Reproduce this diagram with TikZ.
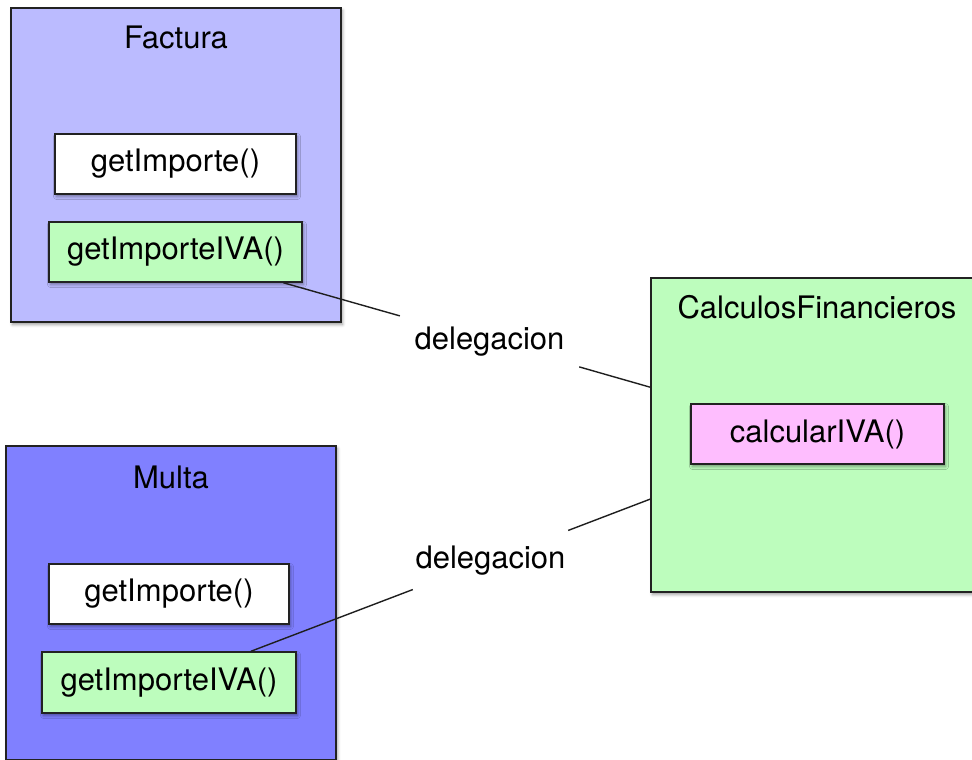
\documentclass[tikz,border=0pt]{standalone}
\usepackage{fontspec}
\setmainfont{TeX Gyre Heros}
\usetikzlibrary{calc,shadows.blur}

\definecolor{facturafill}{HTML}{BBBBFF}
\definecolor{multafill}{HTML}{8080FF}
\definecolor{greenfill}{HTML}{BDFDBD}
\definecolor{pinkfill}{HTML}{FEBDFE}
\definecolor{boxline}{HTML}{222222}
\definecolor{linecol}{HTML}{1E1E1E}

\begin{document}
\begin{tikzpicture}[x=1pt, y=-1pt,
  box/.style={draw=boxline, line width=1.5pt, rectangle, inner sep=0pt,
    blur shadow={shadow xshift=1.5pt, shadow yshift=-2.5pt,
      shadow blur radius=3pt, shadow opacity=40}},
  classbox/.style={box, minimum width=330pt, minimum height=314pt},
  txt/.style={font=\fontsize{31}{36}\selectfont, text=black},
  title/.style={txt, inner sep=0pt},
  method/.style={box, txt, minimum height=60pt},
  gap/.style={txt, inner sep=0pt},
  link/.style={draw=linecol, line width=1.4pt}]

\useasboundingbox (0,0) rectangle (972,760);

% class Factura
\node[classbox, fill=facturafill] (factura) at (176,165) {};
\node[title] (facturaT) at (176,37) {Factura};
\node[method, fill=white, minimum width=241pt] (fimp) at (175.5,164) {getImporte()};
\node[method, fill=greenfill, minimum width=253pt] (fiva) at (175.5,252) {getImporteIVA()};

% class Multa
\node[classbox, fill=multafill] (multa) at (171,603) {};
\node[title] (multaT) at (171,477) {Multa};
\node[method, fill=white, minimum width=240pt] (mimp) at (169,594) {getImporte()};
\node[method, fill=greenfill, minimum width=254pt, minimum height=61pt] (miva) at (169,682.5) {getImporteIVA()};

% class CalculosFinancieros
\node[box, fill=greenfill, minimum width=336pt, minimum height=314pt] (cf) at (819,435) {};
\node[title] (cfT) at (817,307) {CalculosFinancieros};
\node[method, fill=pinkfill, minimum width=253pt] (civa) at (817.5,434) {calcularIVA()};

% delegation labels, placed on the centre-to-centre lines
\node[gap, minimum width=179pt, minimum height=51pt] (d1) at ($(fiva)!0.488!(cf)$) {delegacion};
\node[gap, minimum width=155pt, minimum height=62pt] (d2) at ($(miva)!0.4946!(cf)$) {delegacion};

% delegation connectors
\draw[link] (fiva) -- (d1);
\draw[link] (d1) -- (cf);
\draw[link] (miva) -- (d2);
\draw[link] (d2) -- (cf);
\end{tikzpicture}
\end{document}
